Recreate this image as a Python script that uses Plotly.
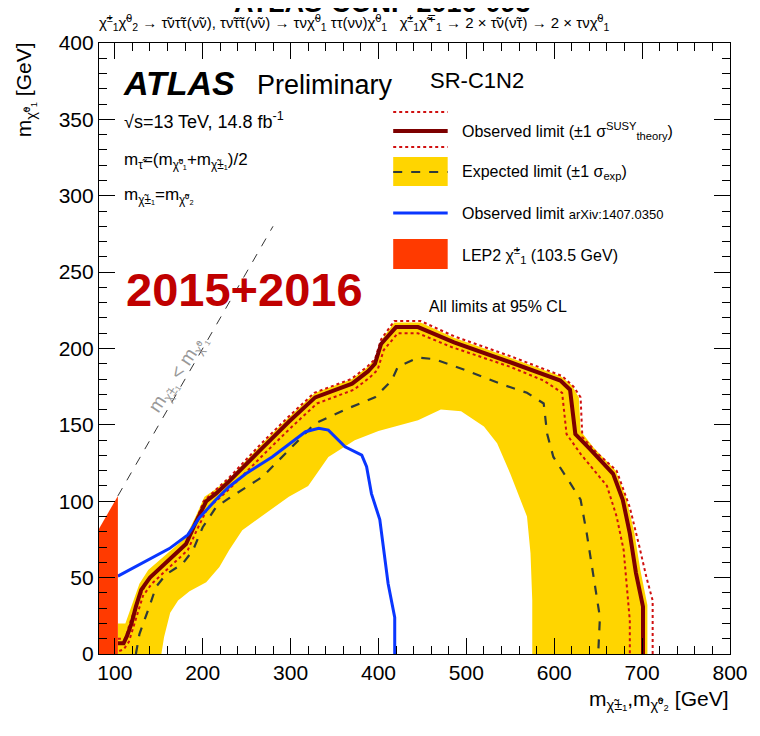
import plotly.graph_objects as go

# ---- data (GeV) ----
OBS_X = [103.5, 110, 114, 119, 124, 130, 140, 162, 181, 192, 204, 215, 230, 268, 298, 328,
         370, 388, 396, 403, 420, 445, 486, 550, 607, 618, 624, 641, 667, 678, 686, 693, 701, 701]
OBS_Y = [7, 7, 12, 20, 31, 42, 50, 62, 72, 86, 100, 105, 113, 135, 152, 168,
         177, 185, 190, 203, 214, 214, 204, 191, 179, 173, 144, 134, 118, 101, 79, 53, 31, 0]

THU_X = [103.5, 112, 117, 127, 137, 160, 180, 191, 201, 214, 231, 267, 297, 327, 369, 387, 396,
         403, 418, 448, 486, 550, 609, 622, 630, 632, 648, 671, 686, 697, 705, 712, 712]
THU_Y = [10, 10, 20, 36, 48, 60, 71, 85, 100, 107, 116, 138, 155, 171, 180, 188, 193,
         206, 218, 218, 208, 195, 182, 175, 168, 142, 132, 120, 96, 70, 50, 35, 0]

THD_X = [105, 110, 116, 121, 126, 132, 142, 164, 183, 194, 206, 217, 232, 270, 300, 330, 372,
         390, 399, 406, 422, 445, 483, 550, 588, 609, 614, 630, 660, 671, 679, 686, 686]
THD_Y = [2, 3, 8, 17, 27, 38, 46, 58, 68, 82, 96, 101, 109, 131, 148, 164, 173,
         181, 186, 199, 210, 210, 201, 188, 179, 171, 144, 131, 110, 90, 68, 22, 0]

EXP_X = [124, 128, 138, 147, 158, 177, 189, 200, 215, 230, 268, 305, 328, 362, 396, 415, 422,
         445, 464, 498, 543, 569, 588, 592, 599, 618, 630, 637, 646, 652, 650]
EXP_Y = [0, 13, 29, 44, 52, 59, 68, 83, 96, 102, 116, 138, 151, 160, 168, 179, 188,
         194, 193, 186, 176, 171, 164, 144, 129, 112, 101, 79, 46, 24, 0]

BAND_UP_X = [103.5, 103.5, 112, 118, 128, 138, 160, 180, 192, 202, 215, 232, 268, 298, 328, 370, 388,
             397, 404, 418, 448, 486, 550, 607, 620, 628, 630, 645, 670, 682, 691, 698, 706, 706]
BAND_UP_Y = [0, 20, 20, 30, 46, 55, 66, 76, 90, 103, 108, 116, 138, 155, 171, 180, 188,
             194, 206, 217, 217, 207, 194, 182, 176, 168, 146, 135, 120, 102, 80, 55, 32, 0]
BAND_LO_X = [575, 575, 573, 569, 550, 535, 520, 494, 471, 445, 400, 373, 343, 332, 320, 298,
             272, 245, 230, 219, 204, 185, 172, 163, 156, 153]
BAND_LO_Y = [0, 35, 66, 90, 118, 138, 149, 159, 160, 153, 146, 140, 129, 120, 110, 103,
             92, 81, 68, 57, 47, 41, 35, 27, 11, 0]

BLUE_X = [103.5, 132, 162, 183, 196, 215, 230, 249, 279, 317, 332, 343, 362, 381, 386.5,
          392, 401.5, 411, 418.5, 418.5]
BLUE_Y = [51, 60, 69, 78, 89, 101, 109.5, 118, 129, 145.5, 147.7, 146.6, 135.7, 130.2, 122.6,
          105, 88, 46, 24, 0]

LEP_X = [82, 82, 103.5, 103.5]
LEP_Y = [0, 82, 103.5, 0]

DIAG_X = [103.5, 280]
DIAG_Y = [103.5, 280]

X_RANGE = [82, 800]
Y_RANGE = [0, 400]

YELLOW = "#ffd500"
DARKRED = "#7d0000"
DOTRED = "#d01010"
BLUE = "#0a36ff"
LEPRED = "#ff3a00"
FONT = "Liberation Sans, Arial, Helvetica, sans-serif"

# page has an 8px body margin, so the figure is shifted by 8px on screen
OFF = 8
W, H = 752, 728
L, R, T, B = 91, 24, 35, 82


def px(x):
    # screen pixel x -> paper coordinate
    return (x - OFF - L) / (W - L - R)


def py(y):
    return (H - B - (y - OFF)) / (H - T - B)


fig = go.Figure()

# expected +-1 sigma band
fig.add_trace(go.Scatter(x=BAND_UP_X + BAND_LO_X, y=BAND_UP_Y + BAND_LO_Y,
                         fill="toself", fillcolor=YELLOW, line=dict(width=0),
                         mode="lines", hoverinfo="skip"))
fig.add_trace(go.Scatter(x=EXP_X, y=EXP_Y, mode="lines",
                         line=dict(color="#2f3a3a", width=2.2, dash="dash")))
fig.add_trace(go.Scatter(x=THU_X, y=THU_Y, mode="lines",
                         line=dict(color=DOTRED, width=2, dash="dot")))
fig.add_trace(go.Scatter(x=THD_X, y=THD_Y, mode="lines",
                         line=dict(color=DOTRED, width=2, dash="dot")))
fig.add_trace(go.Scatter(x=OBS_X, y=OBS_Y, mode="lines",
                         line=dict(color=DARKRED, width=4)))
fig.add_trace(go.Scatter(x=BLUE_X, y=BLUE_Y, mode="lines",
                         line=dict(color=BLUE, width=3)))
fig.add_trace(go.Scatter(x=LEP_X, y=LEP_Y, fill="toself", fillcolor=LEPRED,
                         line=dict(width=0), mode="lines"))
fig.add_trace(go.Scatter(x=DIAG_X, y=DIAG_Y, mode="lines",
                         line=dict(color="#333333", width=1, dash="dash")))

axis_common = dict(showgrid=False, zeroline=False, showline=True, linecolor="black",
                   linewidth=1.2, mirror="allticks", ticks="inside", tickcolor="black",
                   tickwidth=1.2, tickfont=dict(family=FONT, size=21, color="black"))
fig.update_xaxes(range=X_RANGE, dtick=100, tick0=0, ticklen=16,
                 minor=dict(dtick=20, tick0=0, ticks="inside", ticklen=8,
                            tickcolor="black", tickwidth=1.2, showgrid=False),
                 **axis_common)
fig.update_yaxes(range=Y_RANGE, dtick=50, tick0=0, ticklen=16,
                 minor=dict(dtick=10, tick0=0, ticks="inside", ticklen=8,
                            tickcolor="black", tickwidth=1.2, showgrid=False),
                 **axis_common)

ann = []


def text(x, y, s, size, color="black", xanchor="left", yanchor="middle", angle=0):
    ann.append(dict(x=px(x), y=py(y), xref="paper", yref="paper", text=s, showarrow=False,
                    xanchor=xanchor, yanchor=yanchor, textangle=angle,
                    font=dict(family=FONT, size=size, color=color)))


# header (title is cut off by the top edge, as in the original)
text(385, 3, "<b>ATLAS-CONF-2016-093</b>", 27, xanchor="center")
text(97, 23, "χ̃<sup>±</sup><sub>1</sub>χ̃<sup>0</sup><sub>2</sub> → τ̃ντ̃τ(ν̃ν), τν̃τ̃τ(ν̃ν) → "
     "τνχ̃<sup>0</sup><sub>1</sub> ττ(νν)χ̃<sup>0</sup><sub>1</sub>   "
     "χ̃<sup>±</sup><sub>1</sub>χ̃<sup>∓</sup><sub>1</sub> → 2 × τ̃ν(ν̃τ) → 2 × τνχ̃<sup>0</sup><sub>1</sub>",
     15)

# axis titles
ann.append(dict(x=px(25), y=py(40), xref="paper", yref="paper",
                text="m<sub>χ̃⁰₁</sub> [GeV]", showarrow=False, textangle=-90,
                xanchor="center", yanchor="top", font=dict(family=FONT, size=21)))
text(737, 700, "m<sub>χ̃±₁</sub>,m<sub>χ̃⁰₂</sub> [GeV]", 21, xanchor="right")

# labels inside the frame
text(121, 83, "<b><i>ATLAS</i></b>", 34)
text(256, 85, "Preliminary", 27)
text(122, 121, "√s=13 TeV, 14.8 fb<sup>-1</sup>", 18)
text(122, 161, "m<sub>τ̃</sub>=(m<sub>χ̃⁰₁</sub>+m<sub>χ̃±₁</sub>)/2", 17)
text(122, 196, "m<sub>χ̃±₁</sub>=m<sub>χ̃⁰₂</sub>", 17)
text(124, 289, "<b>2015+2016</b>", 47, color="#c00000")
text(431, 80, "SR-C1N2", 22)
text(179, 374, "m<sub>χ̃±₁</sub> < m<sub>χ̃⁰₁</sub>", 19, color="#999999",
     xanchor="center", angle=-57)

# legend
LX0, LX1, TX = 396, 451, 463
shapes = [
    dict(type="line", xref="paper", yref="paper", x0=px(LX0), x1=px(LX1), y0=py(112), y1=py(112),
         line=dict(color=DOTRED, width=2, dash="dot")),
    dict(type="line", xref="paper", yref="paper", x0=px(LX0), x1=px(LX1), y0=py(131), y1=py(131),
         line=dict(color=DARKRED, width=4)),
    dict(type="line", xref="paper", yref="paper", x0=px(LX0), x1=px(LX1), y0=py(147), y1=py(147),
         line=dict(color=DOTRED, width=2, dash="dot")),
    dict(type="rect", xref="paper", yref="paper", x0=px(LX0), x1=px(LX1), y0=py(186), y1=py(157),
         fillcolor=YELLOW, line=dict(width=0)),
    dict(type="line", xref="paper", yref="paper", x0=px(LX0), x1=px(LX1), y0=py(172), y1=py(172),
         line=dict(color="#2f3a3a", width=2.2, dash="dash")),
    dict(type="line", xref="paper", yref="paper", x0=px(LX0), x1=px(LX1), y0=py(213), y1=py(213),
         line=dict(color=BLUE, width=3)),
    dict(type="rect", xref="paper", yref="paper", x0=px(LX0), x1=px(LX1), y0=py(269), y1=py(239),
         fillcolor=LEPRED, line=dict(width=0)),
]
text(TX, 131, "Observed limit (±1 σ<sup>SUSY</sup><sub>theory</sub>)", 16)
text(TX, 172, "Expected limit (±1 σ<sub>exp</sub>)", 16)
text(TX, 213, "Observed limit <span style='font-size:13px'>arXiv:1407.0350</span>", 16)
text(TX, 255, "LEP2 χ̃<sup>±</sup><sub>1</sub> (103.5 GeV)", 16)
text(430, 306, "All limits at 95% CL", 16)

fig.update_layout(
    width=W, height=H,
    margin=dict(l=L, r=R, t=T, b=B),
    paper_bgcolor="white", plot_bgcolor="white",
    showlegend=False,
    annotations=ann,
    shapes=shapes,
    font=dict(family=FONT, color="black"),
)

fig.write_html("out.html")
